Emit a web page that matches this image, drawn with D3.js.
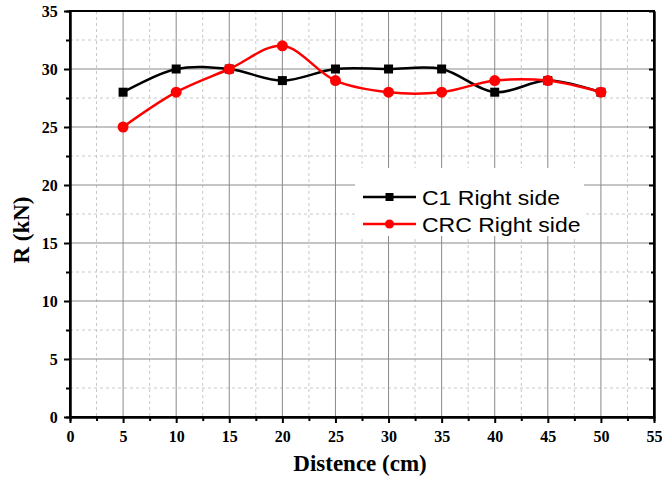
<!DOCTYPE html>
<html>
<head>
<meta charset="utf-8">
<script src="https://cdn.jsdelivr.net/npm/d3@7"></script>
<style>
  body { margin: 0; background: #fff; }
  svg { display: block; }
</style>
</head>
<body>
<svg width="662" height="480"></svg>
<script>
// data
const distance = [5, 10, 15, 20, 25, 30, 35, 40, 45, 50];
const c1Right = [28, 30, 30, 29, 30, 30, 30, 28, 29, 28];
const crcRight = [25, 28, 30, 32, 29, 28, 28, 29, 29, 28];
const xTicks = d3.range(0, 56, 5);
const yTicks = d3.range(0, 36, 5);
const seriesNames = ["C1 Right side", "CRC Right side"];

const svg = d3.select("svg");
const plotL = 70, plotR = 654, plotT = 11, plotB = 417;

const x = d3.scaleLinear().domain([0, 55]).range([plotL, plotR]);
const y = d3.scaleLinear().domain([0, 35]).range([plotB, plotT]);

const minorX = d3.range(2.5, 55, 5);
const minorY = d3.range(2.5, 35, 5);

// minor grid (dashed)
svg.append("g").selectAll("line").data(minorX).join("line")
  .attr("x1", d => x(d)).attr("x2", d => x(d))
  .attr("y1", plotT).attr("y2", plotB)
  .attr("stroke", "#c8c8c8").attr("stroke-dasharray", "3,3");
svg.append("g").selectAll("line").data(minorY).join("line")
  .attr("y1", d => y(d)).attr("y2", d => y(d))
  .attr("x1", plotL).attr("x2", plotR)
  .attr("stroke", "#c8c8c8").attr("stroke-dasharray", "3,3");

// major grid
svg.append("g").selectAll("line").data(xTicks.slice(1, -1)).join("line")
  .attr("x1", d => x(d)).attr("x2", d => x(d))
  .attr("y1", plotT).attr("y2", plotB)
  .attr("stroke", "#8a8a8a").attr("stroke-width", 1);
svg.append("g").selectAll("line").data(yTicks.slice(1, -1)).join("line")
  .attr("y1", d => y(d)).attr("y2", d => y(d))
  .attr("x1", plotL).attr("x2", plotR)
  .attr("stroke", "#8a8a8a").attr("stroke-width", 1);

// legend background covers the grid
const lg = { x: 355, y: 168, w: 229, h: 68 };
svg.append("rect").attr("x", lg.x).attr("y", lg.y)
  .attr("width", lg.w).attr("height", lg.h).attr("fill", "#fff");

// frame
svg.append("rect").attr("x", plotL).attr("y", plotT)
  .attr("width", plotR - plotL).attr("height", plotB - plotT)
  .attr("fill", "none").attr("stroke", "#000").attr("stroke-width", 2);

// axes
const tickFont = "'Liberation Serif', 'Times New Roman', serif";
const xAxis = svg.append("g").attr("transform", `translate(0,${plotB})`)
  .call(d3.axisBottom(x).tickValues(xTicks).tickSize(6).tickSizeOuter(0));
svg.append("g").attr("transform", `translate(0,${plotB})`)
  .call(d3.axisBottom(x).tickValues(minorX).tickSize(4).tickFormat(""));
const yAxis = svg.append("g").attr("transform", `translate(${plotL},0)`)
  .call(d3.axisLeft(y).tickValues(yTicks).tickSize(6).tickSizeOuter(0));
svg.append("g").attr("transform", `translate(${plotL},0)`)
  .call(d3.axisLeft(y).tickValues(minorY).tickSize(4).tickFormat(""));
svg.append("g").attr("transform", `translate(${plotR},0)`)
  .call(d3.axisLeft(y).tickValues(yTicks).tickSize(5).tickFormat("").tickSizeOuter(0));
svg.append("g").attr("transform", `translate(${plotR},0)`)
  .call(d3.axisLeft(y).tickValues(minorY).tickSize(3).tickFormat("").tickSizeOuter(0));

svg.selectAll(".domain").attr("stroke", "#000").attr("stroke-width", 2);
svg.selectAll(".tick line").attr("stroke", "#000").attr("stroke-width", 2);
xAxis.selectAll("text").attr("font-family", tickFont).attr("font-weight", "bold")
  .attr("font-size", 16).attr("dy", "1.0em");
yAxis.selectAll("text").attr("font-family", tickFont).attr("font-weight", "bold")
  .attr("font-size", 16).attr("dx", "-0.2em");

// axis titles
svg.append("text").attr("x", 360).attr("y", 471)
  .attr("text-anchor", "middle").attr("font-family", tickFont)
  .attr("font-weight", "bold").attr("font-size", 23).text("Distence (cm)");
svg.append("text").attr("transform", "translate(29,230) rotate(-90)")
  .attr("text-anchor", "middle").attr("font-family", tickFont)
  .attr("font-weight", "bold").attr("font-size", 23).text("R (kN)");

// series
const line = d3.line().curve(d3.curveCatmullRom.alpha(0.5))
  .x((d, i) => x(distance[i])).y(d => y(d));

svg.append("path").datum(c1Right).attr("d", line)
  .attr("fill", "none").attr("stroke", "#000").attr("stroke-width", 2.5);
svg.append("path").datum(crcRight).attr("d", line)
  .attr("fill", "none").attr("stroke", "#ff0000").attr("stroke-width", 2.5);

svg.append("g").selectAll("rect").data(c1Right).join("rect")
  .attr("x", (d, i) => x(distance[i]) - 4.5).attr("y", d => y(d) - 4.5)
  .attr("width", 9).attr("height", 9).attr("fill", "#000");
svg.append("g").selectAll("circle").data(crcRight).join("circle")
  .attr("cx", (d, i) => x(distance[i])).attr("cy", d => y(d))
  .attr("r", 5.5).attr("fill", "#ff0000");

// legend
const legendFont = "'Liberation Sans', Arial, sans-serif";
const rows = [{ name: seriesNames[0], color: "#000", shape: "square", cy: 197 },
              { name: seriesNames[1], color: "#ff0000", shape: "circle", cy: 224 }];
const lgItem = svg.append("g").selectAll("g").data(rows).join("g");
lgItem.append("line").attr("x1", 363).attr("x2", 416)
  .attr("y1", d => d.cy).attr("y2", d => d.cy)
  .attr("stroke", d => d.color).attr("stroke-width", 2.5);
lgItem.filter(d => d.shape === "square").append("rect")
  .attr("x", 385.5).attr("y", d => d.cy - 4).attr("width", 8).attr("height", 8)
  .attr("fill", d => d.color);
lgItem.filter(d => d.shape === "circle").append("circle")
  .attr("cx", 389.5).attr("cy", d => d.cy).attr("r", 4.5)
  .attr("fill", d => d.color);
// text in the source is a little stretched sideways
lgItem.append("text")
  .attr("transform", d => `translate(422,${d.cy + 8}) scale(1.18,1)`)
  .attr("font-family", legendFont).attr("font-size", 19.5)
  .attr("fill", "#000").text(d => d.name);
</script>
</body>
</html>
